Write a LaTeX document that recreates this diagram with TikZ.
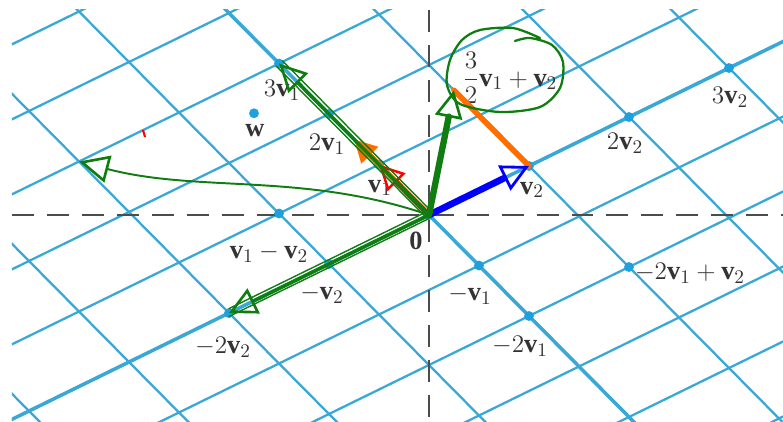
\documentclass[tikz,border=0pt]{standalone}
\usepackage{amsmath}
\usepackage{fontspec}
\setmainfont{Liberation Serif}
\usepackage{tikz}
\usetikzlibrary{arrows.meta}
\definecolor{gridblue}{RGB}{58,168,214}
\definecolor{dotblue}{RGB}{30,160,222}
\definecolor{penGreen}{RGB}{16,125,16}
\definecolor{penOrange}{RGB}{255,110,0}
\newcommand{\vb}{\text{\textbf{v}}}
\tikzstyle{latline} = [gridblue, line width=1.3pt]
\tikzstyle{axisline} = [black!70, line width=1.1pt, dash pattern=on 12.5pt off 7.4pt]
\tikzstyle{lbl} = [font=\fontsize{15}{17}\selectfont, inner sep=1pt, text=black!80]
\tikzstyle{pen} = [penGreen, line width=2pt, line cap=round, line join=round]
\tikzstyle{opentip} = [-{Triangle[open, length=5.5mm, width=5.5mm, line width=1.5pt]}]

\begin{document}
\begin{tikzpicture}[x={(-1cm,1.01cm)}, y={(2cm,0.98cm)}]
\useasboundingbox (-8.58cm,-4.12cm) rectangle (7.08cm,4.30cm);

\begin{scope}
\clip (-8.34cm,-4.12cm) rectangle (7.08cm,4.12cm);
\foreach \k in {-5,...,5} {
    \draw[latline] (\k,-7) -- (\k,7);
}
\foreach \k in {-5,...,4} {
    \draw[latline] (-9,\k) -- (9,\k);
}
\draw[latline, line width=2pt] (-9,0) -- (9,0);
\draw[latline, line width=2pt] (0,-7) -- (0,7);
\end{scope}

\draw[axisline] (-8.34cm,0cm) -- (7.08cm,0cm);
\draw[axisline] (0cm,4.10cm) -- (0cm,-4.12cm);

\foreach \a/\b/\nm in {0/0/O, 1/0/v1, 2/0/2v1, 3/0/3v1, 1.5/0/h1, 0/1/v2, 0/2/2v2, 0/3/3v2,
    1/-1/v1mv2, 0/-1/mv2, 0/-2/m2v2, -1/0/mv1, -2/0/m2v1, -2/1/m2v1pv2,
    2.5/-0.5/w, 1.5/1/p32, 3/-2/far} {
    \coordinate (\nm) at (\a,\b);
}
\foreach \p in {O, v1, 2v1, 3v1, w, v2, 2v2, 3v2, v1mv2, mv2, m2v2, mv1, m2v1, m2v1pv2} {
    \fill[dotblue] (\p) circle[radius=2.8pt];
}

\foreach \nm/\x/\y/\txt in {3v1/-2.94/2.50/{$3\vb_1$}, w/-3.48/1.68/{\textbf{w}},
    2v1/-2.04/1.42/{$2\vb_1$}, v1/-0.98/0.54/{$\vb_1$},
    v2/2.06/0.50/{$\vb_2$}, 2v2/3.92/1.44/{$2\vb_2$},
    3v2/6.02/2.36/{$3\vb_2$}, p32/1.62/2.74/{$\genfrac{}{}{0.6pt}{0}{3}{2}\vb_1+\vb_2$},
    O/-0.26/-0.52/{\textbf{0}}, v1mv2/-3.20/-0.76/{$\vb_1-\vb_2$},
    mv2/-2.14/-1.58/{$-\vb_2$}, m2v2/-4.12/-2.64/{$-2\vb_2$},
    mv1/0.82/-1.60/{$-\vb_1$}, m2v1/1.82/-2.62/{$-2\vb_1$},
    m2v1pv2/5.22/-1.16/{$-2\vb_1+\vb_2$}} {
    \node[lbl] (l-\nm) at (\x cm,\y cm) {\txt};
}

\draw[penOrange, line width=3pt, -{Triangle[length=4.5mm, width=4.5mm]}] (O) -- (h1);
\draw[penOrange, line width=3.2pt, line cap=round] (v2) -- (p32);
\draw[red, line width=2.8pt, -{Triangle[open, length=5mm, width=5mm, line width=1.4pt]}] (O) -- (v1);
\draw[blue, line width=3.8pt, -{Triangle[open, length=5.5mm, width=5.5mm, line width=1.6pt]}] (O) -- (v2);

\draw[pen, opentip] (O) -- (3v1);
\draw[pen, line width=0.8pt] ([shift={(2pt,1.5pt)}]O) -- ([shift={(2pt,1.5pt)}]3v1);
\draw[pen, line width=0.8pt] ([shift={(-1.5pt,-1.5pt)}]O) -- ([shift={(-1.5pt,-1.5pt)}]3v1);
\draw[pen, line width=3.6pt, opentip] (O) -- (p32);
\draw[pen, opentip] (O) -- (m2v2);
\draw[pen, line width=0.8pt] ([shift={(0pt,2.5pt)}]O) -- ([shift={(0pt,2.5pt)}]m2v2);
\draw[pen, line width=0.8pt] ([shift={(0pt,-2pt)}]O) -- ([shift={(0pt,-2pt)}]m2v2);
\draw[pen, line width=1.1pt, -{Triangle[open, length=6mm, width=5.5mm, line width=1.5pt]}]
    (O) .. controls (-2.5cm,0.86cm) and (-4.61cm,0.44cm) .. (far);
\draw[pen, line width=1.3pt] plot[smooth] coordinates {(2.22cm,3.54cm) (1.68cm,3.74cm)
    (1.02cm,3.70cm) (0.66cm,3.50cm) (0.42cm,3.10cm) (0.36cm,2.60cm) (0.62cm,2.22cm)
    (1.42cm,2.06cm) (2.22cm,2.16cm) (2.62cm,2.54cm) (2.68cm,3.06cm) (2.46cm,3.40cm)
    (2.02cm,3.54cm) (1.72cm,3.48cm)};
\draw[red, line width=1.2pt] (-5.72cm,1.70cm) -- (-5.68cm,1.56cm);
\end{tikzpicture}
\end{document}
